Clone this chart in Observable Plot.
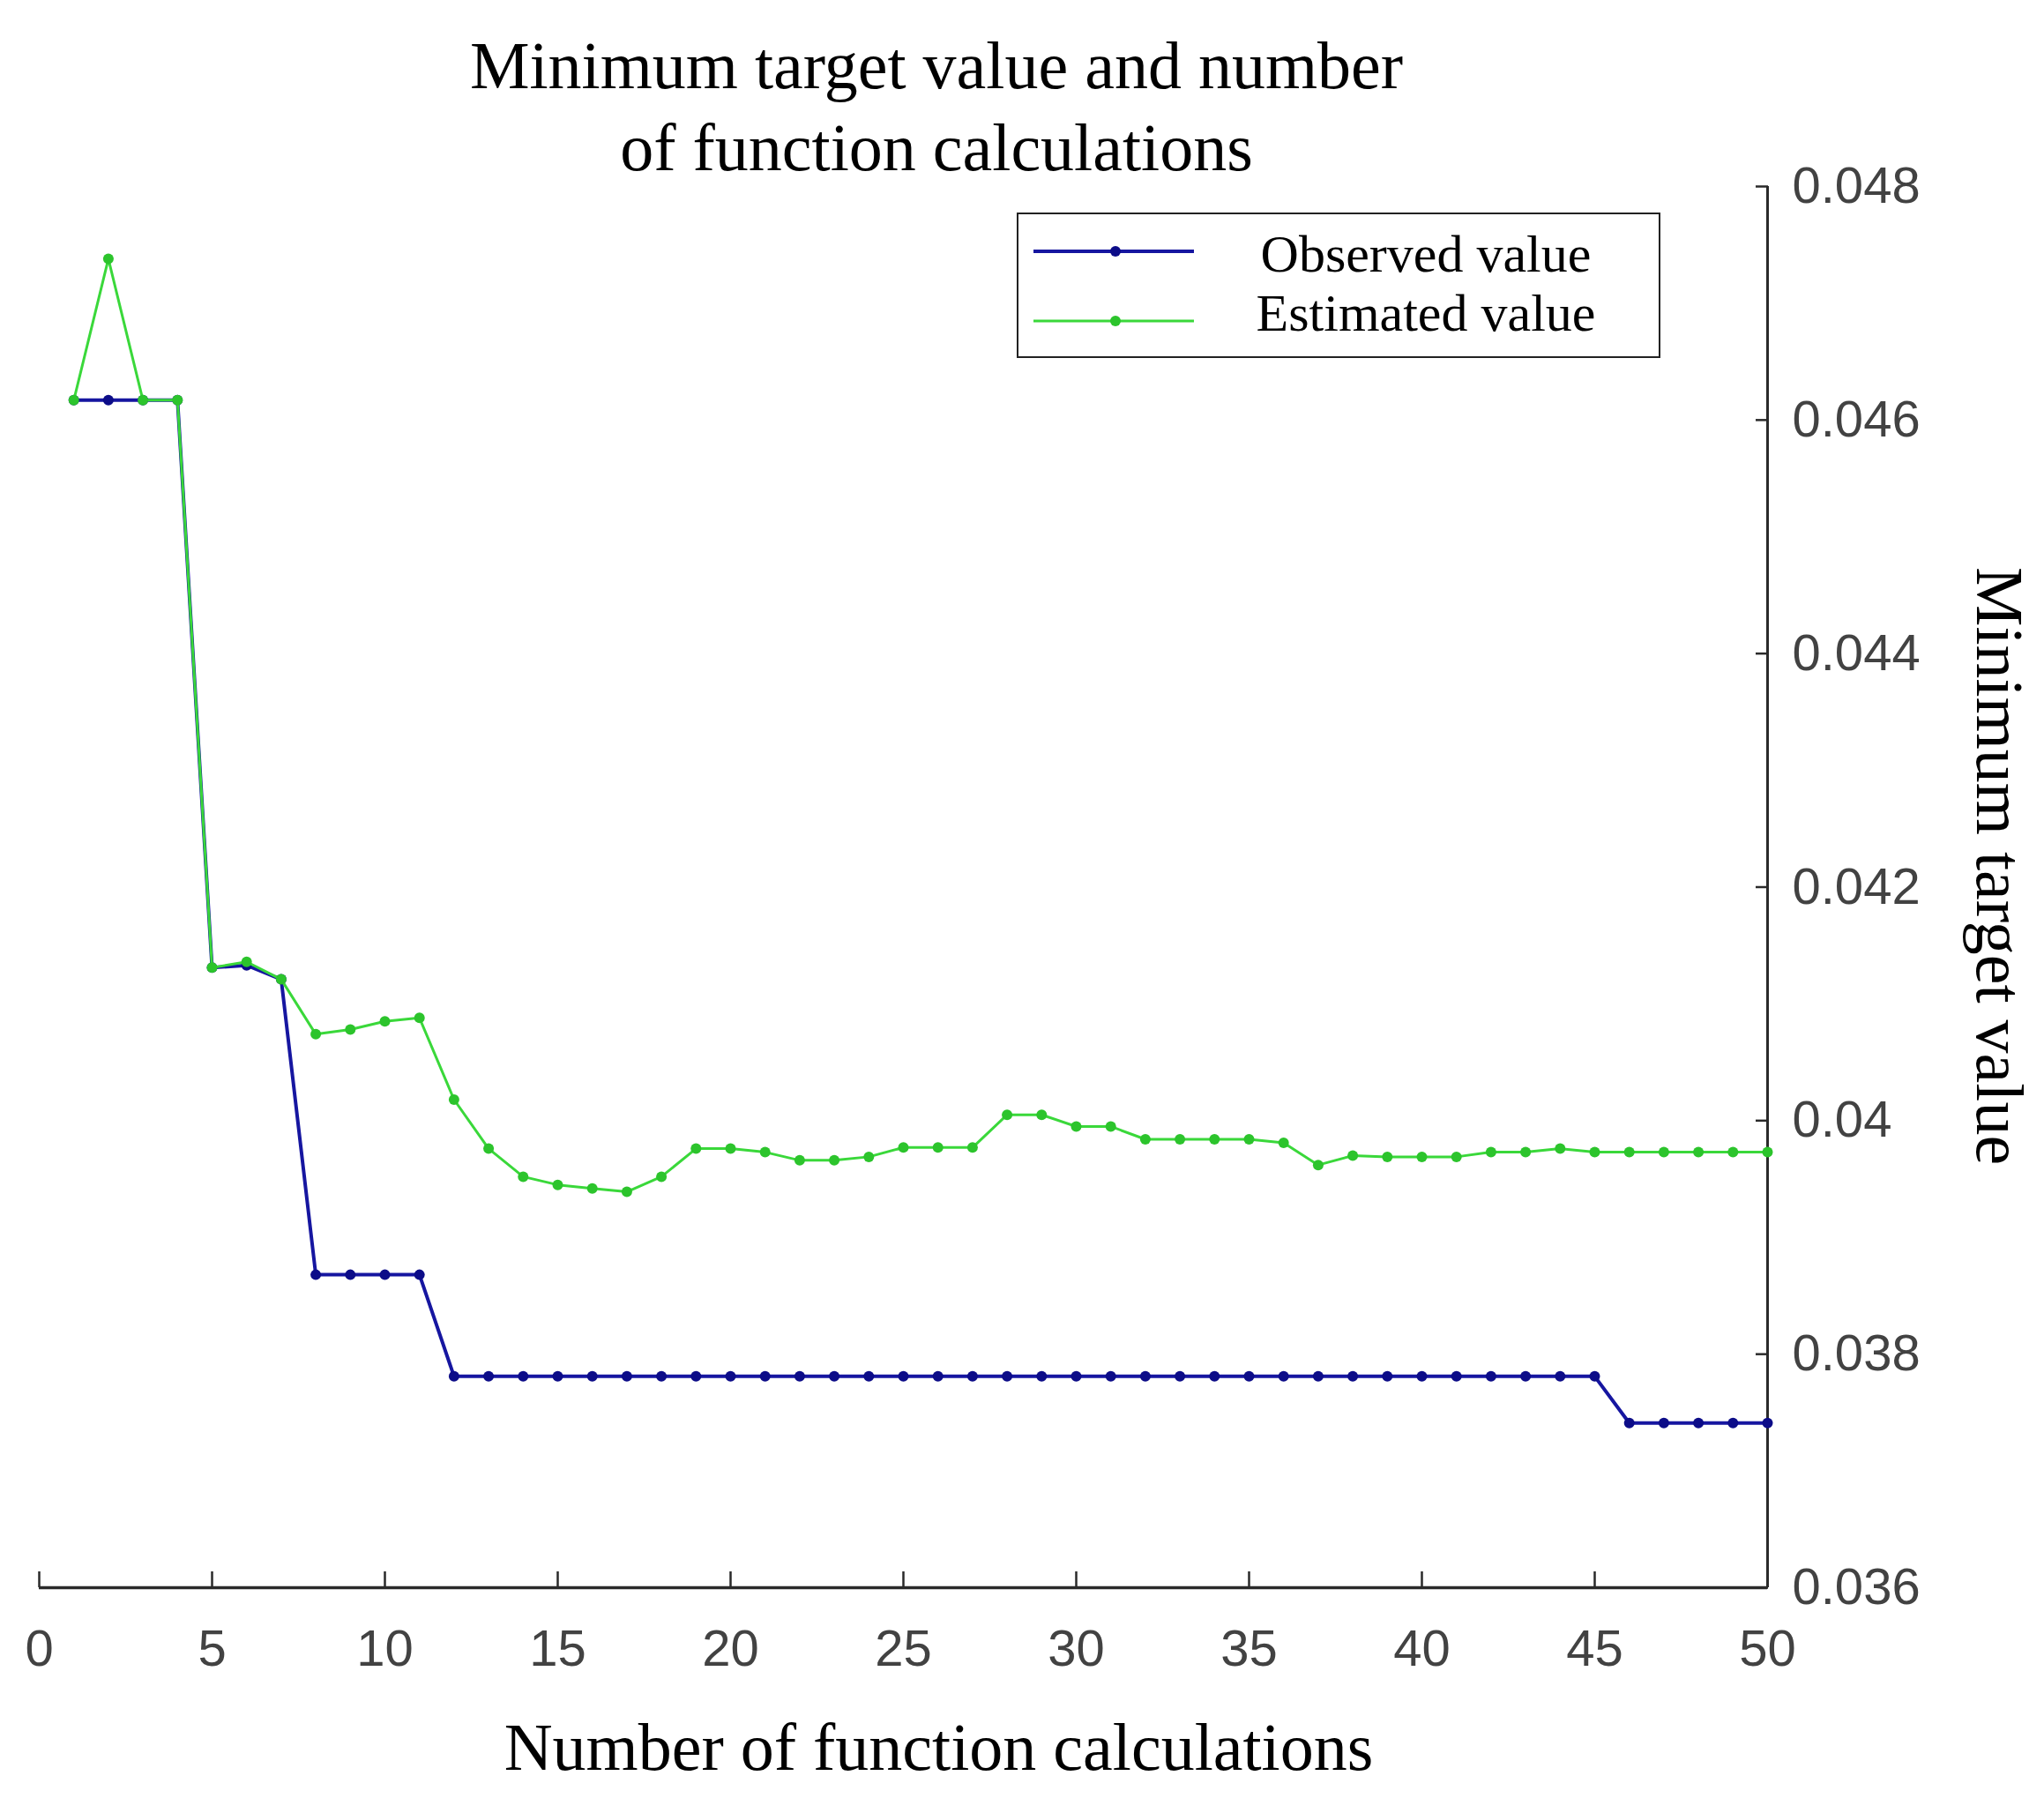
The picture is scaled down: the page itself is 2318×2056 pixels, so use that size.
<!DOCTYPE html>
<html>
<head>
<meta charset="utf-8">
<script src="https://cdn.jsdelivr.net/npm/d3@7"></script>
<script src="https://cdn.jsdelivr.net/npm/@observablehq/plot@0.6"></script>
<style>
  html, body { margin: 0; padding: 0; background: #fff; }
  #wrap { position: relative; width: 2318px; height: 2056px; overflow: hidden; }
  #title {
    position: absolute; left: 0; top: 28px; width: 2124px; text-align: center;
    font-family: "Liberation Serif", "Times New Roman", serif; font-size: 76px; line-height: 93px; color: #000;
  }
  #legend {
    position: absolute; left: 1153px; top: 241px; width: 726px; height: 161px;
    border: 2.5px solid #222; background: #fff; box-sizing: content-box;
  }
  .lrow-text {
    position: absolute; left: 262px; width: 400px; text-align: center;
    font-family: "Liberation Serif", "Times New Roman", serif; font-size: 60px; line-height: 60px; color: #000;
    white-space: nowrap;
  }
  .lrow-swatch { position: absolute; left: 17px; width: 182px; height: 20px; }
  #chart { position: absolute; left: 0; top: 0; }
</style>
</head>
<body>
<div id="wrap">
  <div id="chart"></div>
  <div id="title"></div>
  <div id="legend"></div>
</div>
<script>
// ---- data ----
const titleLines = ["Minimum target value and number", "of function calculations"];
const xLabel = "Number of function calculations";
const yLabel = "Minimum target value";
const seriesNames = ["Observed value", "Estimated value"];
const seriesColors = ["#1616a0", "#3ad83a"];
const markerColors = ["#0c0c88", "#2cc42c"];

const calls = [1,2,3,4,5,6,7,8,9,10,11,12,13,14,15,16,17,18,19,20,21,22,23,24,25,
               26,27,28,29,30,31,32,33,34,35,36,37,38,39,40,41,42,43,44,45,46,47,48,49,50];

const observed = [0.04617,0.04617,0.04617,0.04617,0.04131,0.04133,0.04121,0.03868,0.03868,0.03868,
                  0.03868,0.03781,0.03781,0.03781,0.03781,0.03781,0.03781,0.03781,0.03781,0.03781,
                  0.03781,0.03781,0.03781,0.03781,0.03781,0.03781,0.03781,0.03781,0.03781,0.03781,
                  0.03781,0.03781,0.03781,0.03781,0.03781,0.03781,0.03781,0.03781,0.03781,0.03781,
                  0.03781,0.03781,0.03781,0.03781,0.03781,0.03741,0.03741,0.03741,0.03741,0.03741];

const estimated = [0.04617,0.04738,0.04617,0.04617,0.04131,0.04136,0.04121,0.04074,0.04078,0.04085,
                   0.04088,0.04018,0.03976,0.03952,0.03945,0.03942,0.03939,0.03952,0.03976,0.03976,
                   0.03973,0.03966,0.03966,0.03969,0.03977,0.03977,0.03977,0.04005,0.04005,0.03995,
                   0.03995,0.03984,0.03984,0.03984,0.03984,0.03981,0.03962,0.03970,0.03969,0.03969,
                   0.03969,0.03973,0.03973,0.03976,0.03973,0.03973,0.03973,0.03973,0.03973,0.03973];

const xDomain = [0, 50];
const yDomain = [0.036, 0.048];
const xTicks = [0,5,10,15,20,25,30,35,40,45,50];
const xTickLabels = ["0","5","10","15","20","25","30","35","40","45","50"];
const yTicks = [0.036,0.038,0.040,0.042,0.044,0.046,0.048];
const yTickLabels = ["0.036","0.038","0.04","0.042","0.044","0.046","0.048"];

// ---- tables ----
const obsRows = calls.map((c, i) => ({calls: c, value: observed[i]}));
const estRows = calls.map((c, i) => ({calls: c, value: estimated[i]}));

const serif = "'Liberation Serif', 'Times New Roman', serif";
const sans = "'Liberation Sans', Arial, Helvetica, sans-serif";

const chart = Plot.plot({
  width: 2318,
  height: 2056,
  marginLeft: 44,
  marginRight: 314,
  marginTop: 211,
  marginBottom: 256,
  style: {background: "transparent", overflow: "visible"},
  x: {domain: xDomain, label: null},
  y: {domain: yDomain, label: null},
  marks: [
    Plot.ruleY([yDomain[0]], {stroke: "#2a2a2a", strokeWidth: 3.5}),
    Plot.ruleX([xDomain[1]], {stroke: "#2a2a2a", strokeWidth: 3}),
    Plot.axisX({
      ticks: xTicks, tickFormat: (d, i) => xTickLabels[i], tickSize: -18, tickPadding: 65,
      stroke: "#2a2a2a", strokeWidth: 2.5, fill: "#424242", color: "#424242",
      fontSize: 58, fontFamily: sans, label: null
    }),
    Plot.axisY({
      anchor: "right", ticks: yTicks, tickFormat: (d, i) => yTickLabels[i], tickSize: -14, tickPadding: 42,
      stroke: "#2a2a2a", strokeWidth: 2.5, fill: "#424242", color: "#424242",
      fontSize: 58, fontFamily: sans, label: null
    }),
    Plot.line(obsRows, {x: "calls", y: "value", stroke: seriesColors[0], strokeWidth: 4}),
    Plot.dot(obsRows, {x: "calls", y: "value", r: 6, fill: markerColors[0], stroke: null}),
    Plot.line(estRows, {x: "calls", y: "value", stroke: seriesColors[1], strokeWidth: 3}),
    Plot.dot(estRows, {x: "calls", y: "value", r: 6, fill: markerColors[1], stroke: null}),
    Plot.text([xLabel], {frameAnchor: "bottom", dx: 40, dy: 206, fontSize: 76, fontFamily: serif, fill: "#000"}),
    Plot.text([yLabel], {frameAnchor: "right", textAnchor: "middle", dx: 262, dy: -24, rotate: 90, fontSize: 76, fontFamily: serif, fill: "#000"})
  ]
});
document.getElementById("chart").appendChild(chart);

// ---- title ----
const t = document.getElementById("title");
titleLines.forEach(line => {
  const d = document.createElement("div");
  d.textContent = line;
  t.appendChild(d);
});

// ---- legend ----
const lg = document.getElementById("legend");
const rowTops = [42, 121];
const textTops = [15, 82];
seriesNames.forEach((name, i) => {
  const sw = document.createElementNS("http://www.w3.org/2000/svg", "svg");
  sw.setAttribute("class", "lrow-swatch");
  sw.setAttribute("width", 182);
  sw.setAttribute("height", 20);
  sw.style.top = (rowTops[i] - 10) + "px";
  const ln = document.createElementNS("http://www.w3.org/2000/svg", "line");
  ln.setAttribute("x1", 0); ln.setAttribute("x2", 182);
  ln.setAttribute("y1", 10); ln.setAttribute("y2", 10);
  ln.setAttribute("stroke", seriesColors[i]);
  ln.setAttribute("stroke-width", i === 0 ? 4 : 3);
  sw.appendChild(ln);
  const c = document.createElementNS("http://www.w3.org/2000/svg", "circle");
  c.setAttribute("cx", 93); c.setAttribute("cy", 10); c.setAttribute("r", 6);
  c.setAttribute("fill", markerColors[i]);
  sw.appendChild(c);
  lg.appendChild(sw);
  const tx = document.createElement("div");
  tx.className = "lrow-text";
  tx.style.top = textTops[i] + "px";
  tx.textContent = name;
  lg.appendChild(tx);
});
</script>
</body>
</html>
